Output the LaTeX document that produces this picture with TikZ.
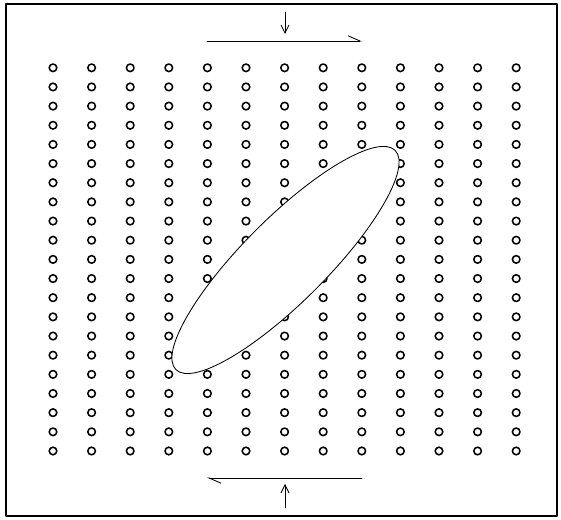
\documentclass[tikz,border=0pt]{standalone}
\usetikzlibrary{arrows.meta}
\begin{document}
\begin{tikzpicture}[>={Straight Barb[length=2mm,width=2mm]}, line cap=round, line join=round]
			\useasboundingbox (0,0) rectangle (14.025,13);
			% Khung
			\draw[line width=1.6pt] (0.15,0.1) rectangle (13.925,12.9);

			% Luoi hat
			\foreach \i in {0,...,12} {
				\foreach \j in {0,...,20} {
					\draw[line width=1.1pt] (1.325+0.965*\i, 1.725+0.479*\j) circle (0.095);
				}
			}

			% Elip
			\draw[fill=white, line width=0.6pt, rotate around={45:(7.1375,6.5)}] (7.1375,6.5) ellipse (3.875cm and 1.05cm);

			% Luc cat phia tren
			\coordinate (topL) at (5.175,11.975);
			\coordinate (topR) at (9.05,11.975);
			\coordinate (topA) at (7.125,12.7);
			\coordinate (topB) at (7.125,12.15);
			\draw[line width=0.6pt, -{Straight Barb[left,length=3mm,width=2.6mm]}] (topL) -- (topR);
			\draw[line width=0.6pt, ->] (topA) -- (topB);

			% Luc cat phia duoi
			\coordinate (botL) at (5.175,1.05);
			\coordinate (botR) at (9.05,1.05);
			\coordinate (botA) at (7.125,0.3);
			\coordinate (botB) at (7.125,0.9);
			\draw[line width=0.6pt, -{Straight Barb[left,length=3mm,width=2.6mm]}] (botR) -- (botL);
			\draw[line width=0.6pt, ->] (botA) -- (botB);
		\end{tikzpicture}
\end{document}
